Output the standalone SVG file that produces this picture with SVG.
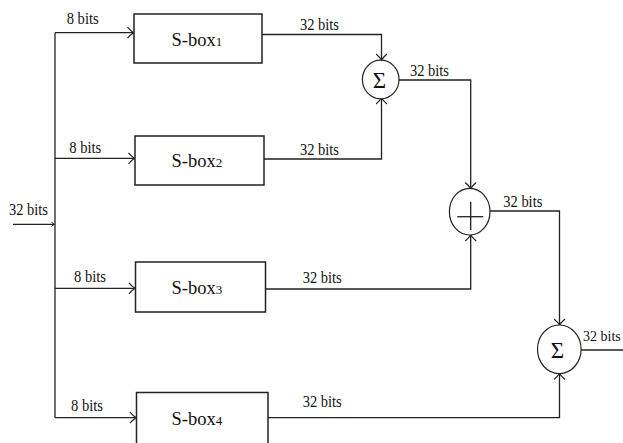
<svg xmlns="http://www.w3.org/2000/svg" width="623" height="443" viewBox="0 0 623 443">
<style>
.ln{fill:none;stroke:#222;stroke-width:1.3}
.bx{fill:#fff;stroke:#222;stroke-width:1.5}
.nd{fill:#fff;stroke:#222;stroke-width:1.2}
.lb{font-family:"Liberation Serif","Times New Roman",serif;font-size:16px;fill:#111}
.bt{font-family:"Liberation Serif","Times New Roman",serif;font-size:18.5px;fill:#111}
.sm{font-size:13px}
.sg{font-family:"Liberation Serif","Times New Roman",serif;font-size:23px;fill:#111;text-anchor:middle}
</style>
<defs>
<marker id="ar" markerWidth="12" markerHeight="12" refX="0" refY="0" viewBox="-8 -6 10 12" orient="auto" markerUnits="userSpaceOnUse">
<path d="M-6,-5.5 Q-3,-2 0,0 Q-3,2 -6,5.5" fill="none" stroke="#222" stroke-width="1.3"/>
</marker>
<marker id="as" markerWidth="6" markerHeight="6" refX="0" refY="0" viewBox="-4 -3 5 6" orient="auto" markerUnits="userSpaceOnUse">
<path d="M-3,-2 L0,0 L-3,2" fill="none" stroke="#222" stroke-width="1"/>
</marker>
</defs>

<g id="connectors">
<polyline class="ln" points="13,224.3 54.5,224.3" marker-end="url(#as)"/>
<line class="ln" x1="55" y1="32.7" x2="55" y2="417.7"/>
<polyline class="ln" points="55,32.7 133.5,32.7" marker-end="url(#ar)"/>
<polyline class="ln" points="55,158.3 134.5,158.3" marker-end="url(#ar)"/>
<polyline class="ln" points="55,288.3 135,288.3" marker-end="url(#ar)"/>
<polyline class="ln" points="55,417.7 136,417.7" marker-end="url(#ar)"/>
<polyline class="ln" points="262,34.5 381.5,34.5 381.5,60" marker-end="url(#ar)"/>
<polyline class="ln" points="264,159 381.5,159 381.5,98" marker-end="url(#ar)"/>
<polyline class="ln" points="399,80 470.7,80 470.7,188.5" marker-end="url(#ar)"/>
<polyline class="ln" points="265.5,289 470.7,289 470.7,235" marker-end="url(#ar)"/>
<polyline class="ln" points="490,211 559.5,211 559.5,325" marker-end="url(#ar)"/>
<polyline class="ln" points="268,417.7 559.5,417.7 559.5,373.5" marker-end="url(#ar)"/>
<line class="ln" x1="581" y1="350" x2="623" y2="350"/>
</g>

<g id="labels">
<text class="lb" x="9" y="215" textLength="39" lengthAdjust="spacingAndGlyphs">32 bits</text>
<text class="lb" x="66.7" y="23.5" textLength="32" lengthAdjust="spacingAndGlyphs">8 bits</text>
<text class="lb" x="69.3" y="152.5" textLength="32" lengthAdjust="spacingAndGlyphs">8 bits</text>
<text class="lb" x="74" y="282" textLength="32" lengthAdjust="spacingAndGlyphs">8 bits</text>
<text class="lb" x="71" y="410.5" textLength="32" lengthAdjust="spacingAndGlyphs">8 bits</text>
<text class="lb" x="300" y="29.5" textLength="39" lengthAdjust="spacingAndGlyphs">32 bits</text>
<text class="lb" x="300" y="155" textLength="39" lengthAdjust="spacingAndGlyphs">32 bits</text>
<text class="lb" x="410" y="76" textLength="39" lengthAdjust="spacingAndGlyphs">32 bits</text>
<text class="lb" x="503.3" y="206.5" textLength="39" lengthAdjust="spacingAndGlyphs">32 bits</text>
<text class="lb" x="302.7" y="283" textLength="39" lengthAdjust="spacingAndGlyphs">32 bits</text>
<text class="lb" x="302.7" y="406.5" textLength="39" lengthAdjust="spacingAndGlyphs">32 bits</text>
<text class="lb" x="583" y="340.5" style="font-size:14px">32 bits</text>
</g>

<g id="sbox1">
<rect class="bx" x="134" y="14" width="128" height="49"/>
<text class="bt" x="171.5" y="45.5">S-box<tspan class="sm">1</tspan></text>
</g>
<g id="sbox2">
<rect class="bx" x="135" y="136" width="129" height="49"/>
<text class="bt" x="171.5" y="167">S-box<tspan class="sm">2</tspan></text>
</g>
<g id="sbox3">
<rect class="bx" x="135.5" y="262" width="130" height="50"/>
<text class="bt" x="171.5" y="294">S-box<tspan class="sm">3</tspan></text>
</g>
<g id="sbox4">
<rect class="bx" x="136.5" y="392.5" width="131.5" height="60"/>
<text class="bt" x="171.5" y="425">S-box<tspan class="sm">4</tspan></text>
</g>

<g id="sum1">
<ellipse class="nd" cx="380.7" cy="79.5" rx="18.3" ry="19.3"/>
<text class="sg" x="379.5" y="87.5">Σ</text>
</g>
<g id="plus">
<ellipse class="nd" cx="469.7" cy="211.7" rx="20.3" ry="23.3"/>
<line class="ln" x1="457.3" y1="216.7" x2="483.3" y2="216.7"/>
<line class="ln" x1="470.7" y1="201.7" x2="470.7" y2="230"/>
</g>
<g id="sum2">
<ellipse class="nd" cx="559.3" cy="349.3" rx="21.8" ry="24.3"/>
<text class="sg" x="557.5" y="357.5">Σ</text>
</g>
</svg>
